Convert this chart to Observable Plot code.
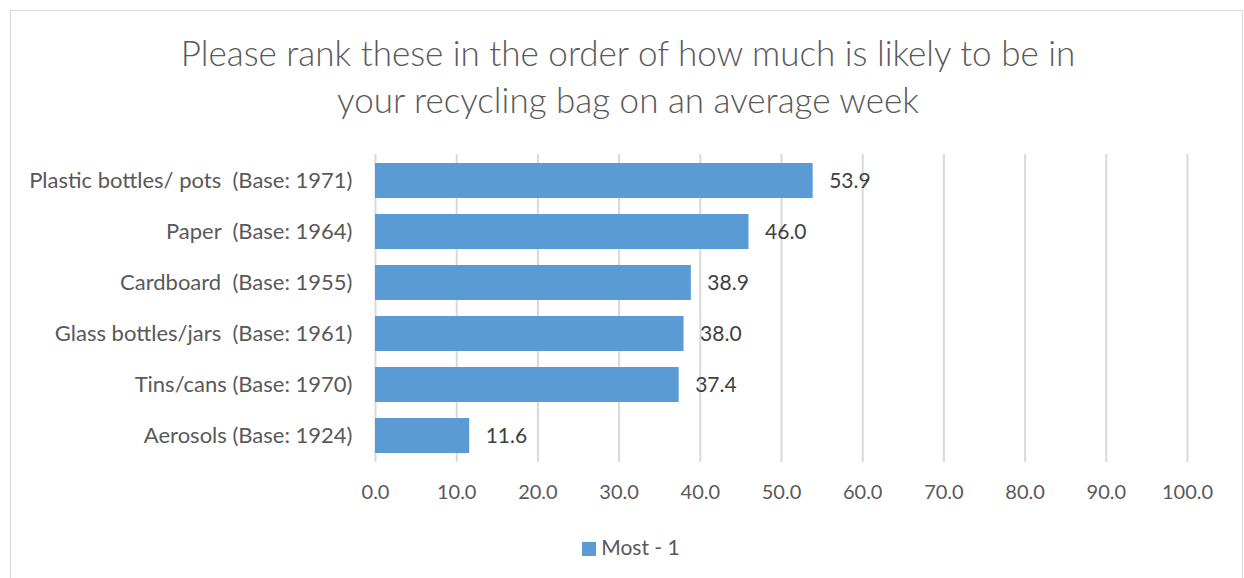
<!DOCTYPE html>
<html><head><meta charset="utf-8">
<script src="https://cdn.jsdelivr.net/npm/d3@7"></script>
<script src="https://cdn.jsdelivr.net/npm/@observablehq/plot@0.6"></script>
<style>
body{margin:0;background:#fff;font-family:Lato, sans-serif;width:1244px;height:578px;overflow:hidden;position:relative;}
#frame{position:absolute;left:10px;top:10px;width:1233px;height:575px;border:1.5px solid #d9d9d9;box-sizing:border-box;}
#title{position:absolute;left:10px;width:1236px;top:29px;text-align:center;color:#595959;font-size:35px;line-height:47px;font-weight:300;}
#chart{position:absolute;left:0;top:0;}
#legend{position:absolute;top:535px;left:0;width:1262px;text-align:center;color:#595959;font-size:21px;line-height:24px;}
#legend .sw{display:inline-block;width:14px;height:14px;background:#5B9BD5;margin-right:5px;vertical-align:-1px;}
</style>
</head><body>
<div id="frame"></div>
<div id="title">Please rank these in the order of how much is likely to be in<br>your recycling bag on an average week</div>
<div id="chart"></div>
<div id="legend"><span class="sw"></span>Most - 1</div>
<script>
const categories = [
  "Plastic bottles/ pots  (Base: 1971)",
  "Paper  (Base: 1964)",
  "Cardboard  (Base: 1955)",
  "Glass bottles/jars  (Base: 1961)",
  "Tins/cans (Base: 1970)",
  "Aerosols (Base: 1924)"
];
const values = [53.9, 46.0, 38.9, 38.0, 37.4, 11.6];
const xTicks = [0, 10, 20, 30, 40, 50, 60, 70, 80, 90, 100];
const seriesName = "Most - 1";

const data = categories.map((c, i) => ({category: c, value: values[i]}));

const chart = Plot.plot({
  width: 1244,
  height: 510,
  marginTop: 154,
  marginBottom: 48,
  marginLeft: 375,
  marginRight: 57,
  x: {domain: [0, 100]},
  y: {domain: categories, paddingInner: 0.32, paddingOuter: 0.16},
  style: {fontFamily: "Lato, sans-serif", fontSize: "20px", color: "#595959", background: "transparent", overflow: "visible"},
  marks: [
    Plot.ruleX(xTicks, {stroke: "#d9d9d9", strokeWidth: 2}),
    Plot.barX(data, {x: "value", y: "category", fill: "#5B9BD5"}),
    Plot.text(data, {x: "value", y: "category", text: d => d.value.toFixed(1), textAnchor: "start", dx: 16, fill: "#404040", fontSize: 21}),
    Plot.axisX({ticks: xTicks, tickSize: 0, tickPadding: 22, tickFormat: d => d.toFixed(1), label: null, fontSize: 20}),
    Plot.axisY({tickSize: 0, tickPadding: 23, label: null, fontSize: 22})
  ]
});
document.getElementById("chart").appendChild(chart);
</script>
</body></html>
